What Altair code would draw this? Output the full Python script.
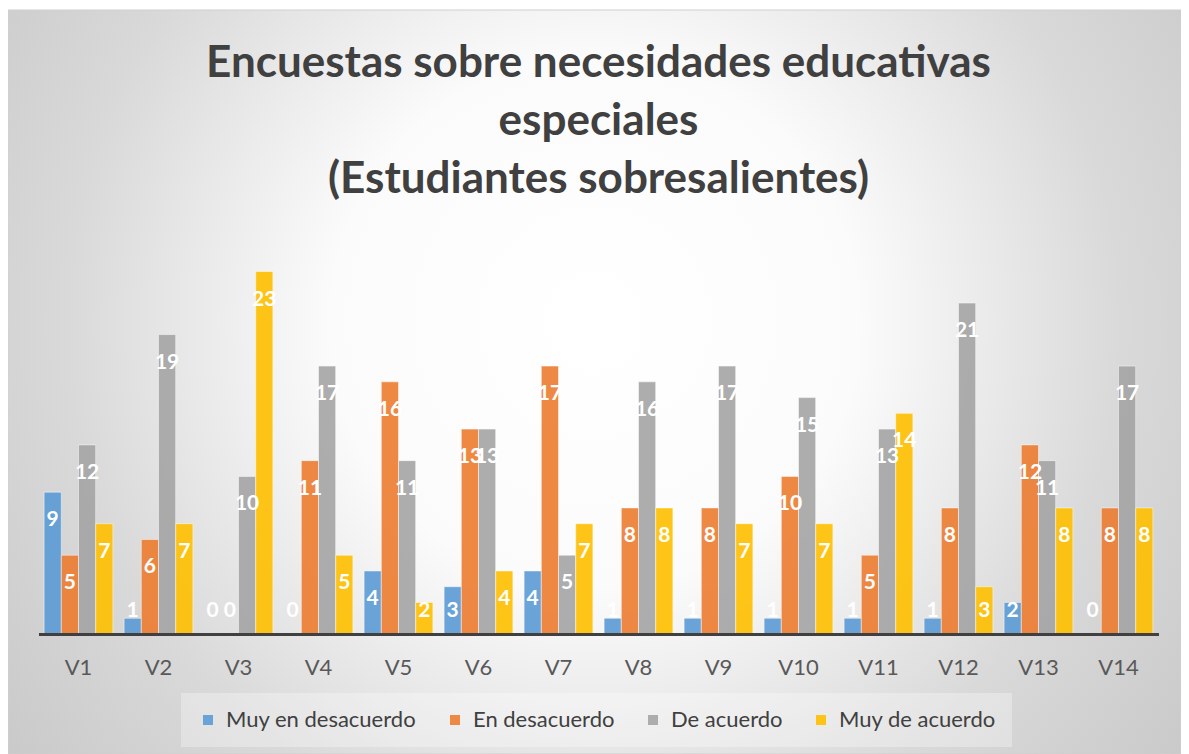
import altair as alt
import pandas as pd

groups = ["V1", "V2", "V3", "V4", "V5", "V6", "V7", "V8", "V9", "V10", "V11", "V12", "V13", "V14"]
series = ["Muy en desacuerdo", "En desacuerdo", "De acuerdo", "Muy de acuerdo"]
muy_en_desacuerdo = [9, 1, 0, 0, 4, 3, 4, 1, 1, 1, 1, 1, 2, 0]
en_desacuerdo = [5, 6, 0, 11, 16, 13, 17, 8, 8, 10, 5, 8, 12, 8]
de_acuerdo = [12, 19, 10, 17, 11, 13, 5, 16, 17, 15, 13, 21, 11, 17]
muy_de_acuerdo = [7, 7, 23, 5, 2, 4, 7, 8, 7, 7, 14, 3, 8, 8]
colors = ["#5B9BD5", "#ED7D31", "#A5A5A5", "#FFC000"]
title_lines = ["Encuestas sobre necesidades educativas", "especiales", "(Estudiantes sobresalientes)"]

rows = []
for s, vals in zip(series, [muy_en_desacuerdo, en_desacuerdo, de_acuerdo, muy_de_acuerdo]):
    for g, v in zip(groups, vals):
        rows.append({"grupo": g, "serie": s, "valor": v})
df = pd.DataFrame(rows)

W, H = 1173, 746
xscale = alt.Scale(range=[30.5, 1150.5], paddingInner=0.14, paddingOuter=0.07)
yscale = alt.Scale(domain=[0, 25], range=[626, 232])

gradient = alt.RadialGradient(
    gradient="radial",
    stops=[
        alt.GradientStop(color="#ffffff", offset=0),
        alt.GradientStop(color="#fbfbfb", offset=0.3),
        alt.GradientStop(color="#d9d9d9", offset=0.6),
        alt.GradientStop(color="#c8c8c8", offset=0.85),
        alt.GradientStop(color="#c0c0c0", offset=1),
    ],
    x1=0.5, y1=0.45, x2=0.5, y2=0.45, r1=0, r2=0.75,
)

background = alt.Chart(alt.Data(values=[{"k": 1}])).mark_rect(
    fill=gradient, stroke="#cfcfcf", strokeWidth=1
).encode(x=alt.value(0), x2=alt.value(W), y=alt.value(2), y2=alt.value(H))

base = alt.Chart(df).encode(
    x=alt.X("grupo:N", sort=groups, scale=xscale,
            axis=alt.Axis(title=None, labelAngle=0, ticks=False, tickSize=0,
                          labelFont="Lato", labelFontSize=22, labelColor="#595959",
                          labelPadding=33, labelBaseline="middle",
                          domainColor="#404040", domainWidth=3, offset=-120,
                          grid=False, zindex=2)),
    xOffset=alt.XOffset("serie:N", sort=series, scale=alt.Scale(paddingInner=0, paddingOuter=0)),
)

bars = base.mark_bar(opacity=0.9, stroke="white", strokeOpacity=0.5, strokeWidth=1).encode(
    y=alt.Y("valor:Q", scale=yscale,
            axis=alt.Axis(title=None, grid=True, labels=False, ticks=False, domain=False,
                          values=[0, 5, 10, 15, 20, 25], gridColor="#000000", gridOpacity=0.14,
                          zindex=1)),
    color=alt.Color("serie:N", sort=series, scale=alt.Scale(domain=series, range=colors),
                    legend=alt.Legend(orient="none", legendX=173, legendY=685,
                                      direction="horizontal", title=None,
                                      labelFont="Lato", labelFontSize=22, labelColor="#404040",
                                      symbolType="square", symbolSize=100, symbolStrokeWidth=0,
                                      symbolOpacity=0.9,
                                      columnPadding=27, padding=16, labelOffset=7, labelLimit=400,
                                      fillColor="rgba(255,255,255,0.3)")),
)

labels = base.transform_calculate(ly="max(datum.valor - 1.78, 1.46)").mark_text(
    font="Lato", fontWeight="bold", fontSize=21, color="white", baseline="middle"
).encode(
    y=alt.Y("ly:Q", scale=yscale, axis=None),
    text=alt.Text("valor:Q"),
)

chart = alt.layer(background, bars, labels).properties(
    width=W, height=H,
    title=alt.TitleParams(text=title_lines, font="Lato", fontSize=44, fontWeight="bold",
                          color="#404040", lineHeight=58, anchor="middle", frame="group",
                          offset=-194, dx=4),
    autosize=alt.AutoSizeParams(type="none"),
    padding=0,
).configure_view(stroke=None)

chart.save("out.html", embed_options={"renderer": "svg", "actions": False})
